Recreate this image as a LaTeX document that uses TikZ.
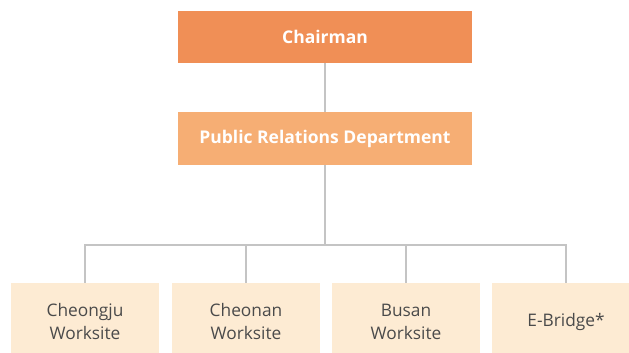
\documentclass[tikz,border=0pt]{standalone}
\usepackage{fontspec}
\setmainfont{Open Sans}
\definecolor{chairorange}{HTML}{F08F56}
\definecolor{prorange}{HTML}{F6AE74}
\definecolor{sitecream}{HTML}{FDEBD3}
\definecolor{linegray}{HTML}{C4C4C4}
\definecolor{textgray}{HTML}{4A4A4A}
\tikzset{
    topbox/.style={minimum width=294pt, minimum height=52pt, inner sep=0pt,
        text=white, font=\bfseries\fontsize{17.5}{20}\selectfont},
    sitebox/.style={fill=sitecream, minimum width=148pt, minimum height=78pt,
        inner sep=0pt, text=textgray, align=center,
        font=\fontsize{17.3}{23}\selectfont},
    orgline/.style={draw=linegray, line width=1.2pt}
}
\begin{document}
\begin{tikzpicture}[x=1pt, y=1pt]
    \useasboundingbox (0,0) rectangle (629,353);
    \clip (0,0) rectangle (629,353);
    % Top levels
    \node[topbox, fill=chairorange] (chair) at (325,316) {Chairman};
    \node[topbox, fill=prorange, minimum height=53pt] (pr) at (325,214.5) {Public Relations Department};
    % Worksites
    \node[sitebox] (cheongju) at (85,31) {Cheongju\\Worksite};
    \node[sitebox] (cheonan) at (246,31) {Cheonan\\Worksite};
    \node[sitebox] (busan) at (406,31) {Busan\\Worksite};
    \node[sitebox] (ebridge) at (566,31) {E-Bridge*};
    % Connectors
    \coordinate (bus) at (325,108);
    \draw[orgline] (chair.south) -- (pr.north);
    \draw[orgline] (pr.south) -- (bus);
    \draw[orgline] (cheongju.north) -- (cheongju.north |- bus) -- (ebridge.north |- bus) -- (ebridge.north);
    \draw[orgline] (cheonan.north) -- (cheonan.north |- bus);
    \draw[orgline] (busan.north) -- (busan.north |- bus);
\end{tikzpicture}
\end{document}
